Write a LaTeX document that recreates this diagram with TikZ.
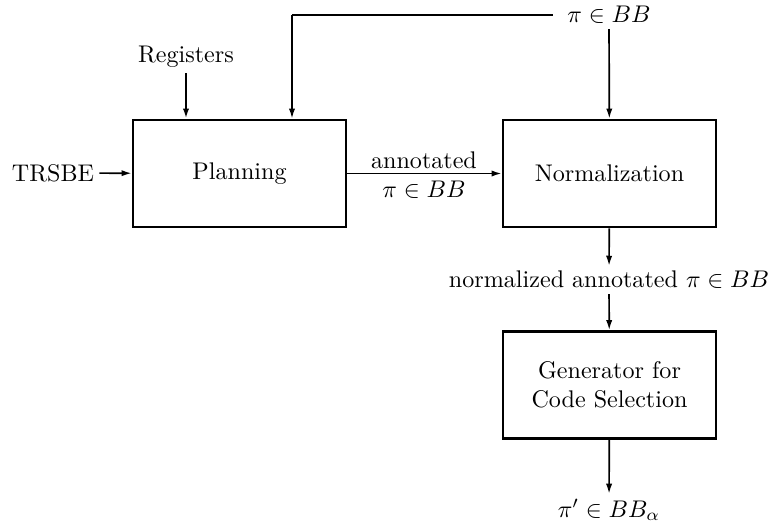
\documentclass[tikz,border=0pt]{standalone}
\usetikzlibrary{arrows.meta}
\begin{document}
\begin{tikzpicture}[x=0.415pt,y=-0.415pt,
  box/.style={draw,line width=1.1pt,minimum width=88.4pt,minimum height=44.4pt,align=center,inner sep=0pt},
  lbl/.style={inner sep=2pt,align=center},
  conn/.style={line width=0.7pt},
  arr/.style={conn,-{Latex[length=4.2pt,width=2.6pt]}}]
\useasboundingbox (0,0) rectangle (772,525);
\node[box] (plan) at (239.5,173.5) {Planning};
\node[box] (norm) at (609.5,173.5) {Normalization};
\node[box] (gen) at (609.5,385) {Generator for\\Code Selection};
\node[lbl] (trsbe) at (53,173) {TRSBE};
\node[lbl] (reg) at (186,57) {Registers};
\node[lbl] (pitop) at (609,15) {$\pi\in BB$};
\node[lbl] (ann) at (424,175) {annotated\\$\pi\in BB$};
\node[lbl] (nlab) at (609,280) {normalized annotated $\pi\in BB$};
\node[lbl] (out) at (609,510) {$\pi'\in BB_\alpha$};
\coordinate (corner) at (292,15);
\draw[arr] (trsbe) -- (plan);
\draw[arr,line width=0.9pt] (reg) -- (reg |- plan.north);
\draw[conn] ([xshift=-4pt]pitop.west) -- (corner);
\draw[arr] (corner) -- (corner |- plan.north);
\draw[arr] (pitop) -- (norm);
\draw[arr] (plan) -- (norm);
\draw[arr] (norm) -- (nlab);
\draw[arr] (nlab) -- (gen);
\draw[arr] (gen) -- (out);
\end{tikzpicture}
\end{document}
